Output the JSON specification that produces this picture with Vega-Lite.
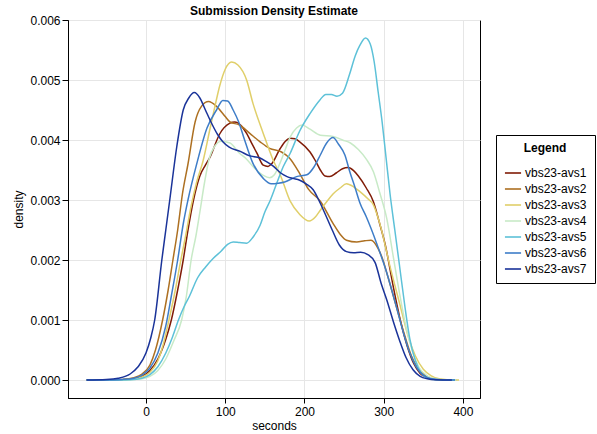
{
"$schema": "https://vega.github.io/schema/vega-lite/v6.json",
"width": 412, "height": 378,
"autosize": "none",
"padding": {"left": 68, "top": 20, "right": 117, "bottom": 36},
"background": "white",
"title": {"text": "Submission Density Estimate", "fontSize": 12, "fontWeight": "bold", "font": "Liberation Sans", "anchor": "middle", "frame": "group", "offset": 1, "dy": 5, "color": "black"},
"data": {"values": [
{"series":"vbs23-avs1","seconds":-75,"density":0},{"series":"vbs23-avs1","seconds":-50,"density":0.000001},{"series":"vbs23-avs1","seconds":-30,"density":0.000005},{"series":"vbs23-avs1","seconds":-15,"density":0.00002},{"series":"vbs23-avs1","seconds":-5,"density":0.00006},{"series":"vbs23-avs1","seconds":5,"density":0.00016},{"series":"vbs23-avs1","seconds":15,"density":0.00035},{"series":"vbs23-avs1","seconds":25,"density":0.00068},{"series":"vbs23-avs1","seconds":32,"density":0.001},{"series":"vbs23-avs1","seconds":40,"density":0.0015},{"series":"vbs23-avs1","seconds":47,"density":0.002},{"series":"vbs23-avs1","seconds":53,"density":0.0025},{"series":"vbs23-avs1","seconds":60,"density":0.003},{"series":"vbs23-avs1","seconds":68,"density":0.0034},{"series":"vbs23-avs1","seconds":75,"density":0.00358},{"series":"vbs23-avs1","seconds":81,"density":0.00372},{"series":"vbs23-avs1","seconds":93,"density":0.0041},{"series":"vbs23-avs1","seconds":106,"density":0.00428},{"series":"vbs23-avs1","seconds":112,"density":0.0043},{"series":"vbs23-avs1","seconds":120,"density":0.00424},{"series":"vbs23-avs1","seconds":127,"density":0.00411},{"series":"vbs23-avs1","seconds":134,"density":0.00393},{"series":"vbs23-avs1","seconds":140,"density":0.00378},{"series":"vbs23-avs1","seconds":148,"density":0.00358},{"series":"vbs23-avs1","seconds":154,"density":0.00356},{"series":"vbs23-avs1","seconds":159,"density":0.00361},{"series":"vbs23-avs1","seconds":169,"density":0.00385},{"series":"vbs23-avs1","seconds":176,"density":0.00398},{"series":"vbs23-avs1","seconds":182,"density":0.00403},{"series":"vbs23-avs1","seconds":188,"density":0.00402},{"series":"vbs23-avs1","seconds":194,"density":0.00397},{"series":"vbs23-avs1","seconds":207,"density":0.0038},{"series":"vbs23-avs1","seconds":214,"density":0.00365},{"series":"vbs23-avs1","seconds":220,"density":0.0035},{"series":"vbs23-avs1","seconds":226,"density":0.0034},{"series":"vbs23-avs1","seconds":232,"density":0.00339},{"series":"vbs23-avs1","seconds":240,"density":0.00345},{"series":"vbs23-avs1","seconds":248,"density":0.00352},{"series":"vbs23-avs1","seconds":255,"density":0.00354},{"series":"vbs23-avs1","seconds":262,"density":0.00349},{"series":"vbs23-avs1","seconds":268,"density":0.0034},{"series":"vbs23-avs1","seconds":278,"density":0.0032},{"series":"vbs23-avs1","seconds":287,"density":0.00297},{"series":"vbs23-avs1","seconds":295,"density":0.0026},{"series":"vbs23-avs1","seconds":302,"density":0.00225},{"series":"vbs23-avs1","seconds":312,"density":0.00156},{"series":"vbs23-avs1","seconds":322,"density":0.00094},{"series":"vbs23-avs1","seconds":330,"density":0.00055},{"series":"vbs23-avs1","seconds":338,"density":0.00027},{"series":"vbs23-avs1","seconds":346,"density":0.00011},{"series":"vbs23-avs1","seconds":355,"density":0.00004},{"series":"vbs23-avs1","seconds":365,"density":0.00001},{"series":"vbs23-avs1","seconds":380,"density":0.000001},{"series":"vbs23-avs1","seconds":392,"density":0},
{"series":"vbs23-avs2","seconds":-75,"density":0},{"series":"vbs23-avs2","seconds":-50,"density":0.000002},{"series":"vbs23-avs2","seconds":-30,"density":0.00001},{"series":"vbs23-avs2","seconds":-15,"density":0.00004},{"series":"vbs23-avs2","seconds":-5,"density":0.0001},{"series":"vbs23-avs2","seconds":5,"density":0.00025},{"series":"vbs23-avs2","seconds":12,"density":0.0005},{"series":"vbs23-avs2","seconds":21,"density":0.001},{"series":"vbs23-avs2","seconds":28,"density":0.0015},{"series":"vbs23-avs2","seconds":34,"density":0.002},{"series":"vbs23-avs2","seconds":40,"density":0.0025},{"series":"vbs23-avs2","seconds":46,"density":0.0031},{"series":"vbs23-avs2","seconds":53,"density":0.0036},{"series":"vbs23-avs2","seconds":62,"density":0.0043},{"series":"vbs23-avs2","seconds":70,"density":0.00456},{"series":"vbs23-avs2","seconds":79,"density":0.00464},{"series":"vbs23-avs2","seconds":89,"density":0.00456},{"series":"vbs23-avs2","seconds":100,"density":0.00439},{"series":"vbs23-avs2","seconds":106,"density":0.0043},{"series":"vbs23-avs2","seconds":118,"density":0.00425},{"series":"vbs23-avs2","seconds":131,"density":0.00411},{"series":"vbs23-avs2","seconds":144,"density":0.00397},{"series":"vbs23-avs2","seconds":156,"density":0.00386},{"series":"vbs23-avs2","seconds":171,"density":0.0038},{"series":"vbs23-avs2","seconds":181,"density":0.0037},{"series":"vbs23-avs2","seconds":194,"density":0.00344},{"series":"vbs23-avs2","seconds":205,"density":0.00318},{"series":"vbs23-avs2","seconds":220,"density":0.00298},{"series":"vbs23-avs2","seconds":236,"density":0.00261},{"series":"vbs23-avs2","seconds":245,"density":0.00243},{"series":"vbs23-avs2","seconds":253,"density":0.00233},{"series":"vbs23-avs2","seconds":266,"density":0.0023},{"series":"vbs23-avs2","seconds":276,"density":0.00232},{"series":"vbs23-avs2","seconds":284,"density":0.00233},{"series":"vbs23-avs2","seconds":293,"density":0.00219},{"series":"vbs23-avs2","seconds":299,"density":0.002},{"series":"vbs23-avs2","seconds":304,"density":0.00178},{"series":"vbs23-avs2","seconds":316,"density":0.00122},{"series":"vbs23-avs2","seconds":327,"density":0.00072},{"series":"vbs23-avs2","seconds":335,"density":0.0004},{"series":"vbs23-avs2","seconds":343,"density":0.0002},{"series":"vbs23-avs2","seconds":352,"density":0.00008},{"series":"vbs23-avs2","seconds":362,"density":0.00002},{"series":"vbs23-avs2","seconds":375,"density":0.000003},{"series":"vbs23-avs2","seconds":390,"density":0},
{"series":"vbs23-avs3","seconds":-75,"density":0},{"series":"vbs23-avs3","seconds":-50,"density":0.000001},{"series":"vbs23-avs3","seconds":-30,"density":0.000004},{"series":"vbs23-avs3","seconds":-15,"density":0.000015},{"series":"vbs23-avs3","seconds":-5,"density":0.00005},{"series":"vbs23-avs3","seconds":5,"density":0.00013},{"series":"vbs23-avs3","seconds":15,"density":0.00032},{"series":"vbs23-avs3","seconds":22,"density":0.0006},{"series":"vbs23-avs3","seconds":29,"density":0.001},{"series":"vbs23-avs3","seconds":37,"density":0.0015},{"series":"vbs23-avs3","seconds":44,"density":0.002},{"series":"vbs23-avs3","seconds":50,"density":0.0024},{"series":"vbs23-avs3","seconds":57,"density":0.0029},{"series":"vbs23-avs3","seconds":64,"density":0.0033},{"series":"vbs23-avs3","seconds":72,"density":0.00365},{"series":"vbs23-avs3","seconds":81,"density":0.0042},{"series":"vbs23-avs3","seconds":87,"density":0.00456},{"series":"vbs23-avs3","seconds":93,"density":0.0049},{"series":"vbs23-avs3","seconds":100,"density":0.00518},{"series":"vbs23-avs3","seconds":108,"density":0.0053},{"series":"vbs23-avs3","seconds":116,"density":0.00525},{"series":"vbs23-avs3","seconds":127,"density":0.005},{"series":"vbs23-avs3","seconds":135,"density":0.00461},{"series":"vbs23-avs3","seconds":148,"density":0.00411},{"series":"vbs23-avs3","seconds":160,"density":0.00368},{"series":"vbs23-avs3","seconds":170,"density":0.0034},{"series":"vbs23-avs3","seconds":182,"density":0.00298},{"series":"vbs23-avs3","seconds":194,"density":0.00276},{"series":"vbs23-avs3","seconds":206,"density":0.00265},{"series":"vbs23-avs3","seconds":214,"density":0.00272},{"series":"vbs23-avs3","seconds":220,"density":0.00283},{"series":"vbs23-avs3","seconds":228,"density":0.00297},{"series":"vbs23-avs3","seconds":236,"density":0.0031},{"series":"vbs23-avs3","seconds":245,"density":0.0032},{"series":"vbs23-avs3","seconds":253,"density":0.00327},{"series":"vbs23-avs3","seconds":262,"density":0.00322},{"series":"vbs23-avs3","seconds":270,"density":0.00314},{"series":"vbs23-avs3","seconds":280,"density":0.00302},{"series":"vbs23-avs3","seconds":287,"density":0.00292},{"series":"vbs23-avs3","seconds":295,"density":0.00261},{"series":"vbs23-avs3","seconds":308,"density":0.00189},{"series":"vbs23-avs3","seconds":320,"density":0.00128},{"series":"vbs23-avs3","seconds":331,"density":0.00072},{"series":"vbs23-avs3","seconds":340,"density":0.0004},{"series":"vbs23-avs3","seconds":350,"density":0.00018},{"series":"vbs23-avs3","seconds":360,"density":0.00007},{"series":"vbs23-avs3","seconds":370,"density":0.00002},{"series":"vbs23-avs3","seconds":380,"density":0.000005},{"series":"vbs23-avs3","seconds":395,"density":0},
{"series":"vbs23-avs4","seconds":-75,"density":0},{"series":"vbs23-avs4","seconds":-40,"density":0.000001},{"series":"vbs23-avs4","seconds":-20,"density":0.000005},{"series":"vbs23-avs4","seconds":-5,"density":0.00002},{"series":"vbs23-avs4","seconds":5,"density":0.00006},{"series":"vbs23-avs4","seconds":15,"density":0.00016},{"series":"vbs23-avs4","seconds":25,"density":0.00035},{"series":"vbs23-avs4","seconds":35,"density":0.00065},{"series":"vbs23-avs4","seconds":45,"density":0.001},{"series":"vbs23-avs4","seconds":51,"density":0.0014},{"series":"vbs23-avs4","seconds":57,"density":0.002},{"series":"vbs23-avs4","seconds":63,"density":0.0024},{"series":"vbs23-avs4","seconds":68,"density":0.0028},{"series":"vbs23-avs4","seconds":74,"density":0.0033},{"series":"vbs23-avs4","seconds":80,"density":0.0037},{"series":"vbs23-avs4","seconds":87,"density":0.0039},{"series":"vbs23-avs4","seconds":95,"density":0.00398},{"series":"vbs23-avs4","seconds":106,"density":0.00395},{"series":"vbs23-avs4","seconds":118,"density":0.00378},{"series":"vbs23-avs4","seconds":127,"density":0.00368},{"series":"vbs23-avs4","seconds":135,"density":0.00356},{"series":"vbs23-avs4","seconds":148,"density":0.00341},{"series":"vbs23-avs4","seconds":156,"density":0.00337},{"series":"vbs23-avs4","seconds":162,"density":0.00342},{"series":"vbs23-avs4","seconds":169,"density":0.00361},{"series":"vbs23-avs4","seconds":176,"density":0.00385},{"series":"vbs23-avs4","seconds":182,"density":0.00405},{"series":"vbs23-avs4","seconds":190,"density":0.0042},{"series":"vbs23-avs4","seconds":197,"density":0.00425},{"series":"vbs23-avs4","seconds":207,"density":0.00418},{"series":"vbs23-avs4","seconds":220,"density":0.00408},{"series":"vbs23-avs4","seconds":236,"density":0.00406},{"series":"vbs23-avs4","seconds":248,"density":0.004},{"series":"vbs23-avs4","seconds":258,"density":0.00395},{"series":"vbs23-avs4","seconds":268,"density":0.00384},{"series":"vbs23-avs4","seconds":278,"density":0.00368},{"series":"vbs23-avs4","seconds":287,"density":0.00347},{"series":"vbs23-avs4","seconds":295,"density":0.00312},{"series":"vbs23-avs4","seconds":304,"density":0.00268},{"series":"vbs23-avs4","seconds":312,"density":0.00206},{"series":"vbs23-avs4","seconds":320,"density":0.00144},{"series":"vbs23-avs4","seconds":329,"density":0.00083},{"series":"vbs23-avs4","seconds":337,"density":0.00045},{"series":"vbs23-avs4","seconds":345,"density":0.0002},{"series":"vbs23-avs4","seconds":355,"density":0.00007},{"series":"vbs23-avs4","seconds":365,"density":0.00002},{"series":"vbs23-avs4","seconds":378,"density":0.000003},{"series":"vbs23-avs4","seconds":392,"density":0},
{"series":"vbs23-avs5","seconds":-75,"density":0},{"series":"vbs23-avs5","seconds":-40,"density":0.000001},{"series":"vbs23-avs5","seconds":-20,"density":0.000006},{"series":"vbs23-avs5","seconds":-5,"density":0.00003},{"series":"vbs23-avs5","seconds":5,"density":0.00009},{"series":"vbs23-avs5","seconds":15,"density":0.00022},{"series":"vbs23-avs5","seconds":25,"density":0.00045},{"series":"vbs23-avs5","seconds":33,"density":0.0007},{"series":"vbs23-avs5","seconds":41,"density":0.001},{"series":"vbs23-avs5","seconds":48,"density":0.00122},{"series":"vbs23-avs5","seconds":55,"density":0.0014},{"series":"vbs23-avs5","seconds":65,"density":0.0017},{"series":"vbs23-avs5","seconds":75,"density":0.00188},{"series":"vbs23-avs5","seconds":85,"density":0.00203},{"series":"vbs23-avs5","seconds":95,"density":0.00215},{"series":"vbs23-avs5","seconds":103,"density":0.00226},{"series":"vbs23-avs5","seconds":110,"density":0.0023},{"series":"vbs23-avs5","seconds":118,"density":0.00229},{"series":"vbs23-avs5","seconds":127,"density":0.00228},{"series":"vbs23-avs5","seconds":135,"density":0.00238},{"series":"vbs23-avs5","seconds":144,"density":0.00258},{"series":"vbs23-avs5","seconds":150,"density":0.0028},{"series":"vbs23-avs5","seconds":157,"density":0.003},{"series":"vbs23-avs5","seconds":165,"density":0.00328},{"series":"vbs23-avs5","seconds":173,"density":0.00355},{"series":"vbs23-avs5","seconds":182,"density":0.00378},{"series":"vbs23-avs5","seconds":194,"density":0.00415},{"series":"vbs23-avs5","seconds":207,"density":0.00444},{"series":"vbs23-avs5","seconds":219,"density":0.00466},{"series":"vbs23-avs5","seconds":227,"density":0.00476},{"series":"vbs23-avs5","seconds":234,"density":0.00476},{"series":"vbs23-avs5","seconds":241,"density":0.00473},{"series":"vbs23-avs5","seconds":248,"density":0.00478},{"series":"vbs23-avs5","seconds":257,"density":0.0051},{"series":"vbs23-avs5","seconds":264,"density":0.0054},{"series":"vbs23-avs5","seconds":270,"density":0.00558},{"series":"vbs23-avs5","seconds":277,"density":0.0057},{"series":"vbs23-avs5","seconds":283,"density":0.0056},{"series":"vbs23-avs5","seconds":288,"density":0.0053},{"series":"vbs23-avs5","seconds":293,"density":0.0048},{"series":"vbs23-avs5","seconds":298,"density":0.0043},{"series":"vbs23-avs5","seconds":303,"density":0.0037},{"series":"vbs23-avs5","seconds":308,"density":0.0031},{"series":"vbs23-avs5","seconds":314,"density":0.0025},{"series":"vbs23-avs5","seconds":320,"density":0.0019},{"series":"vbs23-avs5","seconds":327,"density":0.0012},{"series":"vbs23-avs5","seconds":333,"density":0.00068},{"series":"vbs23-avs5","seconds":340,"density":0.00032},{"series":"vbs23-avs5","seconds":347,"density":0.00012},{"series":"vbs23-avs5","seconds":356,"density":0.00003},{"series":"vbs23-avs5","seconds":366,"density":0.000005},{"series":"vbs23-avs5","seconds":390,"density":0},
{"series":"vbs23-avs6","seconds":-75,"density":0},{"series":"vbs23-avs6","seconds":-50,"density":0.000002},{"series":"vbs23-avs6","seconds":-30,"density":0.00001},{"series":"vbs23-avs6","seconds":-15,"density":0.00003},{"series":"vbs23-avs6","seconds":-5,"density":0.00008},{"series":"vbs23-avs6","seconds":5,"density":0.0002},{"series":"vbs23-avs6","seconds":15,"density":0.00045},{"series":"vbs23-avs6","seconds":25,"density":0.0009},{"series":"vbs23-avs6","seconds":32,"density":0.0014},{"series":"vbs23-avs6","seconds":40,"density":0.002},{"series":"vbs23-avs6","seconds":47,"density":0.0026},{"series":"vbs23-avs6","seconds":53,"density":0.003},{"series":"vbs23-avs6","seconds":64,"density":0.0036},{"series":"vbs23-avs6","seconds":77,"density":0.0042},{"series":"vbs23-avs6","seconds":89,"density":0.0045},{"series":"vbs23-avs6","seconds":97,"density":0.00466},{"series":"vbs23-avs6","seconds":103,"density":0.00465},{"series":"vbs23-avs6","seconds":110,"density":0.0045},{"series":"vbs23-avs6","seconds":117,"density":0.0043},{"series":"vbs23-avs6","seconds":123,"density":0.00406},{"series":"vbs23-avs6","seconds":135,"density":0.00361},{"series":"vbs23-avs6","seconds":148,"density":0.00336},{"series":"vbs23-avs6","seconds":158,"density":0.00327},{"series":"vbs23-avs6","seconds":167,"density":0.00328},{"series":"vbs23-avs6","seconds":175,"density":0.0033},{"series":"vbs23-avs6","seconds":190,"density":0.00339},{"series":"vbs23-avs6","seconds":203,"density":0.00342},{"series":"vbs23-avs6","seconds":212,"density":0.00355},{"series":"vbs23-avs6","seconds":220,"density":0.00375},{"series":"vbs23-avs6","seconds":228,"density":0.00395},{"series":"vbs23-avs6","seconds":236,"density":0.00404},{"series":"vbs23-avs6","seconds":243,"density":0.00393},{"series":"vbs23-avs6","seconds":251,"density":0.00375},{"series":"vbs23-avs6","seconds":257,"density":0.00348},{"series":"vbs23-avs6","seconds":264,"density":0.0032},{"series":"vbs23-avs6","seconds":270,"density":0.00295},{"series":"vbs23-avs6","seconds":278,"density":0.00272},{"series":"vbs23-avs6","seconds":291,"density":0.00228},{"series":"vbs23-avs6","seconds":304,"density":0.00178},{"series":"vbs23-avs6","seconds":316,"density":0.00122},{"series":"vbs23-avs6","seconds":325,"density":0.00078},{"series":"vbs23-avs6","seconds":333,"density":0.00045},{"series":"vbs23-avs6","seconds":341,"density":0.00022},{"series":"vbs23-avs6","seconds":350,"density":0.00008},{"series":"vbs23-avs6","seconds":360,"density":0.00002},{"series":"vbs23-avs6","seconds":372,"density":0.000004},{"series":"vbs23-avs6","seconds":390,"density":0},
{"series":"vbs23-avs7","seconds":-75,"density":0},{"series":"vbs23-avs7","seconds":-50,"density":0.000008},{"series":"vbs23-avs7","seconds":-35,"density":0.00003},{"series":"vbs23-avs7","seconds":-20,"density":0.0001},{"series":"vbs23-avs7","seconds":-10,"density":0.00022},{"series":"vbs23-avs7","seconds":0,"density":0.00045},{"series":"vbs23-avs7","seconds":6,"density":0.0007},{"series":"vbs23-avs7","seconds":11,"density":0.001},{"series":"vbs23-avs7","seconds":20,"density":0.002},{"series":"vbs23-avs7","seconds":25,"density":0.0025},{"series":"vbs23-avs7","seconds":30,"density":0.003},{"series":"vbs23-avs7","seconds":39,"density":0.0039},{"series":"vbs23-avs7","seconds":47,"density":0.0045},{"series":"vbs23-avs7","seconds":54,"density":0.0047},{"series":"vbs23-avs7","seconds":61,"density":0.00479},{"series":"vbs23-avs7","seconds":68,"density":0.0047},{"series":"vbs23-avs7","seconds":75,"density":0.0045},{"series":"vbs23-avs7","seconds":82,"density":0.0043},{"series":"vbs23-avs7","seconds":90,"density":0.0041},{"series":"vbs23-avs7","seconds":97,"density":0.00397},{"series":"vbs23-avs7","seconds":105,"density":0.00388},{"series":"vbs23-avs7","seconds":119,"density":0.00381},{"series":"vbs23-avs7","seconds":130,"density":0.00374},{"series":"vbs23-avs7","seconds":144,"density":0.0037},{"series":"vbs23-avs7","seconds":152,"density":0.00364},{"series":"vbs23-avs7","seconds":161,"density":0.00356},{"series":"vbs23-avs7","seconds":170,"density":0.00345},{"series":"vbs23-avs7","seconds":178,"density":0.00339},{"series":"vbs23-avs7","seconds":185,"density":0.00336},{"series":"vbs23-avs7","seconds":194,"density":0.00333},{"series":"vbs23-avs7","seconds":202,"density":0.00327},{"series":"vbs23-avs7","seconds":211,"density":0.00317},{"series":"vbs23-avs7","seconds":218,"density":0.003},{"series":"vbs23-avs7","seconds":225,"density":0.0028},{"series":"vbs23-avs7","seconds":235,"density":0.0025},{"series":"vbs23-avs7","seconds":244,"density":0.00225},{"series":"vbs23-avs7","seconds":253,"density":0.00214},{"series":"vbs23-avs7","seconds":262,"density":0.00212},{"series":"vbs23-avs7","seconds":271,"density":0.00213},{"series":"vbs23-avs7","seconds":280,"density":0.00209},{"series":"vbs23-avs7","seconds":289,"density":0.00196},{"series":"vbs23-avs7","seconds":297,"density":0.0016},{"series":"vbs23-avs7","seconds":304,"density":0.00133},{"series":"vbs23-avs7","seconds":312,"density":0.00098},{"series":"vbs23-avs7","seconds":320,"density":0.00066},{"series":"vbs23-avs7","seconds":328,"density":0.00038},{"series":"vbs23-avs7","seconds":337,"density":0.00017},{"series":"vbs23-avs7","seconds":346,"density":0.00006},{"series":"vbs23-avs7","seconds":355,"density":0.00002},{"series":"vbs23-avs7","seconds":366,"density":0.000004},{"series":"vbs23-avs7","seconds":386,"density":0}
]},
"mark": {"type": "line", "interpolate": "monotone", "strokeWidth": 1.5, "clip": true},
"encoding": {
  "x": {"field": "seconds", "type": "quantitative", "scale": {"domain": [-98.4, 421.5], "nice": false, "zero": false},
        "axis": {"values": [0, 100, 200, 300, 400], "title": "seconds", "labelPadding": 3, "titlePadding": 3, "tickSize": 5}},
  "y": {"field": "density", "type": "quantitative", "scale": {"domain": [-0.0003, 0.006], "nice": false, "zero": false},
        "axis": {"values": [0, 0.001, 0.002, 0.003, 0.004, 0.005, 0.006], "format": ".3f", "title": "density", "labelPadding": 2, "titlePadding": 4, "tickSize": 6}},
  "color": {"field": "series", "type": "nominal",
    "scale": {"domain": ["vbs23-avs1","vbs23-avs2","vbs23-avs3","vbs23-avs4","vbs23-avs5","vbs23-avs6","vbs23-avs7"],
              "range": ["#801c07","#ad7022","#e0cf6a","#c8eac7","#5dc1d8","#3e7dc8","#1a3399"]},
    "legend": {"title": "Legend", "orient": "none", "legendX": 428, "legendY": 115}}
},
"config": {
  "font": "Liberation Sans",
  "view": {"stroke": "black", "strokeWidth": 1},
  "axis": {"domainColor": "black", "tickColor": "black", "gridColor": "#e6e6e6", "labelFontSize": 12, "titleFontSize": 12, "titleFontWeight": "normal", "labelColor": "black", "titleColor": "black", "labelFont": "Liberation Sans", "titleFont": "Liberation Sans"},
  "legend": {"strokeColor": "black", "fillColor": "white", "padding": 8, "symbolType": "stroke", "symbolSize": 260, "symbolStrokeWidth": 1.6, "labelFontSize": 12, "titleFontSize": 12, "titleFontWeight": "bold", "titleAnchor": "middle", "titlePadding": 9, "rowPadding": 1, "labelOffset": 3, "labelColor": "black", "titleColor": "black", "labelFont": "Liberation Sans", "titleFont": "Liberation Sans", "cornerRadius": 0}
}
}
